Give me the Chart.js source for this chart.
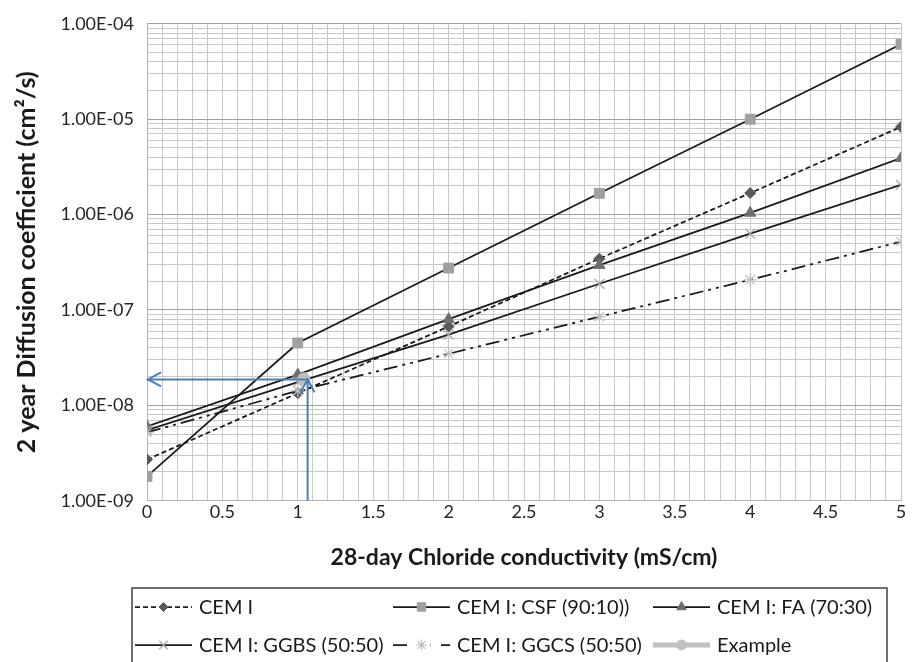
<!DOCTYPE html>
<html><head><meta charset="utf-8">
<script src="https://cdn.jsdelivr.net/npm/chart.js@4.4.1/dist/chart.umd.min.js"></script>
<style>html,body{margin:0;padding:0;background:#fff;}#wrap{width:914px;height:662px;position:relative;}</style>
</head><body><div id="wrap"><canvas id="c"></canvas></div>
<script>
// ---- data ----
const xValues = [0, 1, 2, 3, 4, 5];
const cemI    = [2.7e-9, 1.34e-8, 6.7e-8, 3.45e-7, 1.68e-6, 8.3e-6];
const cemCSF  = [1.8e-9, 4.5e-8, 2.75e-7, 1.67e-6, 1.0e-5, 6.1e-5];
const cemFA   = [6.0e-9, 2.1e-8, 8.0e-8, 2.95e-7, 1.04e-6, 3.9e-6];
const cemGGBS = [5.5e-9, 1.75e-8, 5.5e-8, 1.88e-7, 6.3e-7, 2.05e-6];
const cemGGCS = [5.2e-9, 1.42e-8, 3.47e-8, 8.5e-8, 2.07e-7, 5.2e-7];
const exampleX = [1.04];
const exampleY = [1.9e-8];
const arrowX = [0, 1.065];          // horizontal arrow end (left), vertical arrow x
const arrowY = [1e-9, 1.87e-8];     // vertical arrow start (axis), arrow level
const seriesNames = ['CEM I', 'CEM I: CSF (90:10))', 'CEM I: FA (70:30)', 'CEM I: GGBS (50:50)', 'CEM I: GGCS (50:50)', 'Example'];
const yDecades = [1e-9, 1e-8, 1e-7, 1e-6, 1e-5, 1e-4];
const yTickLabels = ['1.00E-09', '1.00E-08', '1.00E-07', '1.00E-06', '1.00E-05', '1.00E-04'];
const yMinorMultipliers = [2, 3, 4, 5, 6, 7, 8, 9];
const xTickLabels = ['0', '0.5', '1', '1.5', '2', '2.5', '3', '3.5', '4', '4.5', '5'];
const xTickValues = [0, 0.5, 1, 1.5, 2, 2.5, 3, 3.5, 4, 4.5, 5];
const xMinorStep = 0.1;

const FONT = 'Lato, "Open Sans", "DejaVu Sans", sans-serif';
Chart.defaults.font.family = FONT;

function pts(xs, ys) { return xs.map((x, i) => ({x: x, y: ys[i]})); }

const LINE = '#1a1a1a';
const datasets = [
  {label: seriesNames[0], data: pts(xValues, cemI), borderColor: LINE, borderWidth: 1.75, borderDash: [5, 3],
   pointStyle: 'rectRot', pointRadius: 5.5, pointBackgroundColor: '#595959', pointBorderColor: '#595959', pointBorderWidth: 1, order: 6},
  {label: seriesNames[1], data: pts(xValues, cemCSF), borderColor: LINE, borderWidth: 1.75,
   pointStyle: 'rect', pointRadius: 7, pointBackgroundColor: '#a0a0a0', pointBorderColor: '#a0a0a0', pointBorderWidth: 1, order: 5},
  {label: seriesNames[2], data: pts(xValues, cemFA), borderColor: LINE, borderWidth: 1.75,
   pointStyle: 'triangle', pointRadius: 6.5, pointBackgroundColor: '#6e6e6e', pointBorderColor: '#6e6e6e', pointBorderWidth: 1, order: 4},
  {label: seriesNames[3], data: pts(xValues, cemGGBS), borderColor: LINE, borderWidth: 1.75,
   pointStyle: 'crossRot', pointRadius: 7, pointBackgroundColor: '#a6a6a6', pointBorderColor: '#a6a6a6', pointBorderWidth: 1.2, order: 3},
  {label: seriesNames[4], data: pts(xValues, cemGGCS), borderColor: LINE, borderWidth: 1.75, borderDash: [14, 5, 3, 5, 3, 5],
   pointStyle: 'star', pointRadius: 6.5, pointBackgroundColor: '#bfbfbf', pointBorderColor: '#bfbfbf', pointBorderWidth: 1.2, order: 2},
  {label: seriesNames[5], data: pts(exampleX, exampleY), borderColor: '#c0c0c0', borderWidth: 5,
   pointStyle: 'circle', pointRadius: 6, pointBackgroundColor: '#c0c0c0', pointBorderColor: '#c0c0c0', pointBorderWidth: 1, order: 1},
  {label: '_arrowV', data: [{x: arrowX[1], y: arrowY[0]}, {x: arrowX[1], y: arrowY[1]}], borderColor: '#4a7ebb', borderWidth: 2,
   pointRadius: 0, order: 0},
  {label: '_arrowH', data: [{x: arrowX[1], y: arrowY[1]}, {x: arrowX[0], y: arrowY[1]}], borderColor: '#4a7ebb', borderWidth: 2,
   pointRadius: 0, order: 0}
];

function isDecade(v) { const l = Math.log10(v); return Math.abs(l - Math.round(l)) < 1e-6; }

const arrowPlugin = {
  id: 'arrows',
  afterDatasetsDraw(chart) {
    const ctx = chart.ctx, xs = chart.scales.x, ys = chart.scales.y;
    const tipL = {x: xs.getPixelForValue(arrowX[0]), y: ys.getPixelForValue(arrowY[1])};
    const tipU = {x: xs.getPixelForValue(arrowX[1]), y: ys.getPixelForValue(arrowY[1])};
    ctx.save();
    ctx.strokeStyle = '#4a7ebb'; ctx.lineWidth = 2; ctx.lineJoin = 'miter';
    ctx.beginPath();
    ctx.moveTo(tipL.x + 14, tipL.y - 7); ctx.lineTo(tipL.x + 1, tipL.y); ctx.lineTo(tipL.x + 14, tipL.y + 7);
    ctx.stroke();
    ctx.beginPath();
    ctx.moveTo(tipU.x - 7, tipU.y + 13); ctx.lineTo(tipU.x, tipU.y); ctx.lineTo(tipU.x + 7, tipU.y + 13);
    ctx.stroke();
    ctx.restore();
  }
};

const legendPlugin = {
  id: 'customLegend',
  afterDraw(chart) {
    const ctx = chart.ctx;
    const box = {l: 132, t: 588, r: 887, b: 700};
    const cols = [135, 393, 653], rows = [607, 645];
    ctx.save();
    ctx.strokeStyle = '#404040'; ctx.lineWidth = 1.5;
    ctx.strokeRect(box.l, box.t, box.r - box.l, box.b - box.t);
    for (let i = 0; i < 6; i++) {
      const ds = chart.data.datasets[i];
      const x0 = cols[i % 3], y0 = rows[Math.floor(i / 3)];
      const len = 57;
      ctx.save();
      ctx.strokeStyle = ds.borderColor; ctx.lineWidth = ds.borderWidth;
      ctx.setLineDash(ds.borderDash ? (i === 4 ? [14, 10] : ds.borderDash) : []);
      ctx.beginPath(); ctx.moveTo(x0, y0); ctx.lineTo(x0 + len, y0); ctx.stroke();
      ctx.setLineDash([]);
      if (i === 4) { ctx.fillStyle = '#fff'; ctx.fillRect(x0 + len / 2 - 9, y0 - 8, 18, 16); }
      ctx.fillStyle = ds.pointBackgroundColor; ctx.strokeStyle = ds.pointBorderColor;
      ctx.lineWidth = ds.pointBorderWidth;
      Chart.helpers.drawPoint(ctx, {pointStyle: ds.pointStyle, radius: ds.pointRadius - 1, rotation: 0, borderWidth: ds.pointBorderWidth}, x0 + len / 2, y0);
      ctx.restore();
      ctx.fillStyle = '#1a1a1a';
      ctx.font = '20px ' + FONT;
      ctx.textBaseline = 'middle'; ctx.textAlign = 'left';
      ctx.fillText(ds.label, x0 + len + 7, y0 + 1);
    }
    ctx.restore();
  }
};

new Chart(document.getElementById('c'), {
  type: 'line',
  data: {datasets: datasets},
  plugins: [arrowPlugin, legendPlugin],
  options: {
    responsive: true, maintainAspectRatio: false, animation: false,
    layout: {padding: {top: 17.5, right: 13, bottom: 0, left: 0}},
    plugins: {legend: {display: false}, tooltip: {enabled: false}},
    elements: {line: {tension: 0, fill: false}},
    scales: {
      x: {
        type: 'linear', min: 0, max: 5,
        afterBuildTicks(scale) {
          const t = [];
          for (let i = 0; i <= 50; i++) t.push({value: +(i * xMinorStep).toFixed(1)});
          scale.ticks = t;
        },
        afterFit(scale) { scale.height = 161.3; },
        ticks: {
          autoSkip: false, maxRotation: 0, padding: 1, color: '#262626', font: {size: 18},
          callback(v) { const k = xTickValues.findIndex(a => Math.abs(a - v) < 1e-6); return k >= 0 ? xTickLabels[k] : ''; }
        },
        grid: {color: '#c8c8c8', lineWidth: 1, drawTicks: false},
        border: {display: true, color: '#b4b4b4'},
        title: {display: true, text: '28-day Chloride conductivity (mS/cm)', color: '#1a1a1a',
                font: {size: 23, weight: 'bold'}, padding: {top: 0, bottom: 91}}
      },
      y: {
        type: 'logarithmic', min: 1e-9, max: 1e-4,
        afterBuildTicks(scale) {
          const t = [];
          for (let d = 0; d < yDecades.length - 1; d++) {
            t.push({value: yDecades[d], major: true});
            yMinorMultipliers.forEach(m => t.push({value: yDecades[d] * m}));
          }
          t.push({value: yDecades[yDecades.length - 1], major: true});
          scale.ticks = t;
        },
        afterFit(scale) { scale.width = 147; },
        ticks: {
          autoSkip: false, padding: 13, color: '#262626', font: {size: 18},
          callback(v) {
            if (!isDecade(v)) return '';
            const k = yDecades.findIndex(a => Math.abs(Math.log10(a) - Math.log10(v)) < 1e-6);
            return k >= 0 ? yTickLabels[k] : '';
          }
        },
        grid: {
          color: (c) => (c.tick && isDecade(c.tick.value)) ? '#a0a0a0' : '#c8c8c8',
          lineWidth: 1, drawTicks: false
        },
        border: {display: true, color: '#b4b4b4'},
        title: {display: true, text: '2 year Diffusion coefficient (cm\u00B2/s)', color: '#1a1a1a',
                font: {size: 25, weight: 'bold'}, padding: {top: 12, bottom: 0}}
      }
    }
  }
});
</script></body></html>
